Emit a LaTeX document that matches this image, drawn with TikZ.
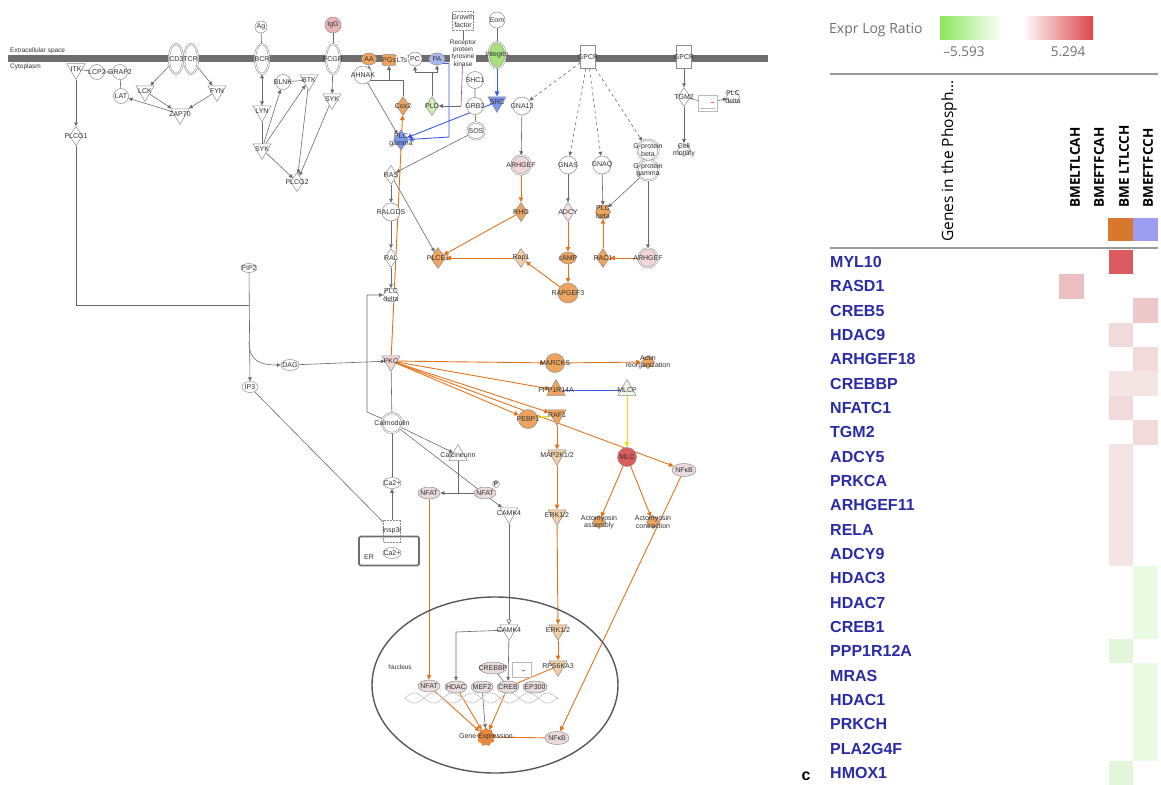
\documentclass[tikz,border=0pt]{standalone}
\usepackage{fontspec}
\setmainfont{Liberation Sans}
\newfontfamily\hmfont{Open Sans}
\usetikzlibrary{shapes.geometric,arrows.meta}
\pgfdeclarelayer{edges}
\pgfsetlayers{edges,main}

\definecolor{membr}{HTML}{6E6E6E}
\definecolor{edgec}{HTML}{6A6A6A}
\definecolor{molc}{HTML}{8C8C8C}
\definecolor{txtc}{HTML}{303030}
\definecolor{upor}{HTML}{EDA45E}
\definecolor{ltor}{HTML}{F2CFA6}
\definecolor{pinkf}{HTML}{F3D6D7}
\definecolor{nfatf}{HTML}{EADCDC}
\definecolor{bluef}{HTML}{7A95EE}
\definecolor{ltblue}{HTML}{A8B9F2}
\definecolor{greenf}{HTML}{A8E07E}
\definecolor{ltgreen}{HTML}{CFEFB4}
\definecolor{mlcpf}{HTML}{EEF6E8}
\definecolor{redf}{HTML}{D95C5E}
\definecolor{iggf}{HTML}{E8B4B4}
\definecolor{corange}{HTML}{E2741E}
\definecolor{cblue}{HTML}{3B5BE8}
\definecolor{cyellow}{HTML}{EEDD00}
\definecolor{genec}{HTML}{2B2BA8}
\definecolor{hdrgray}{HTML}{6F6F6F}
\definecolor{rulec}{HTML}{9A9A9A}
\definecolor{barg}{HTML}{8CE85A}
\definecolor{barr}{HTML}{D9474C}
\definecolor{hmorange}{HTML}{D8782E}
\definecolor{hmlav}{HTML}{9D9DF2}
\definecolor{hmred}{HTML}{DB5A5F}
\definecolor{hmpk}{HTML}{EBBFC2}
\definecolor{hmpkb}{HTML}{EDC8CA}
\definecolor{hmpkc}{HTML}{F2D9DA}
\definecolor{hmpkd}{HTML}{F5E4E4}
\definecolor{hmgr}{HTML}{EBFAE3}
\definecolor{hmgrb}{HTML}{E3F6D9}

\tikzset{
  lbl/.style={font=\fontsize{7}{7.4}\selectfont, text=txtc, align=center, inner sep=0pt},
  mol/.style={draw=molc, line width=0.5pt, fill=white, inner sep=0pt,
    label={[lbl]center:#1}},
  mol/.default={},
  circ/.style={mol=#1, circle, minimum size=15pt}, circ/.default={},
  dcirc/.style={mol=#1, circle, minimum size=17pt, double=white, double distance=0.9pt}, dcirc/.default={},
  dell/.style={mol=#1, ellipse, minimum width=14pt, minimum height=30pt, double=white, double distance=0.9pt}, dell/.default={},
  elli/.style={mol=#1, ellipse, minimum width=22pt, minimum height=12pt}, elli/.default={},
  dia/.style={mol=#1, diamond, minimum width=13pt, minimum height=19pt}, dia/.default={},
  tdn/.style={mol=#1, regular polygon, regular polygon sides=3, shape border rotate=180, minimum size=21pt}, tdn/.default={},
  tup/.style={mol=#1, regular polygon, regular polygon sides=3, minimum size=21pt}, tup/.default={},
  enz/.style={mol=#1, regular polygon, regular polygon sides=6, minimum size=15pt}, enz/.default={},
  func/.style={mol=#1, star, star points=8, star point ratio=1.3, minimum size=13pt}, func/.default={},
  gpcr/.style={mol=#1, rectangle, minimum width=15pt, minimum height=23pt}, gpcr/.default={},
  dbox/.style={mol=#1, rectangle, densely dotted, minimum width=21pt, minimum height=19pt}, dbox/.default={},
  gline/.style={draw=edgec, line width=0.6pt},
  garr/.style={gline, -{Triangle[length=4pt,width=3.6pt]}},
  darr/.style={garr, dashed},
  oline/.style={draw=corange, line width=0.9pt},
  oarr/.style={oline, -{Triangle[length=5pt,width=4.5pt]}},
  bline/.style={draw=cblue, line width=0.9pt},
  barrow/.style={bline, -{Triangle[length=5pt,width=4.5pt]}},
  yline/.style={draw=cyellow, line width=0.9pt},
  yarr/.style={yline, -{Triangle[length=5pt,width=4.5pt]}},
  genename/.style={anchor=west, inner sep=0pt, text=genec, font=\bfseries\fontsize{16}{16}\selectfont},
  colhdr/.style={rotate=90, anchor=west, inner sep=0pt, font=\hmfont\bfseries\fontsize{13.5}{13.5}\selectfont},
}

\begin{document}
\begin{tikzpicture}[x=1pt,y=-1pt]
\useasboundingbox (0,0) rectangle (1161,784);

% compartments
\node[lbl, anchor=west, font=\fontsize{6.5}{7}\selectfont] (exlab) at (10,51) {Extracellular space};
\node[lbl, anchor=west, font=\fontsize{6.5}{7}\selectfont] (cylab) at (10,67) {Cytoplasm};

% T cell receptor
\node[dell] (cd3) at (176,59) {};
\node[dell] (tcr) at (191,59) {};
\node[lbl] (cdtcr) at (183.5,59) {CD3TCR};
\node[tdn=ITK] (itk) at (76,69) {};
\node[circ=LCP2] (lcp2) at (97,72) {};
\node[circ=GRAP2] (grap2) at (120,72) {};
\node[circ=LAT] (lat) at (121,96) {};
\node[tdn=LCK] (lck) at (145,91) {};
\node[tdn=FYN] (fyn) at (217,91) {};
\node[tdn=ZAP70] (zap70) at (180,114) {};
\node[dia=PLCG1] (plcg1) at (76,136) {};
\coordinate (pj) at (249,305);
\coordinate (pc1) at (249,342);
\node[elli=PIP2, minimum width=16pt, minimum height=9pt] (pip2) at (249,268) {};
\node[elli=DAG, minimum width=18pt, minimum height=11pt] (dag) at (290,365) {};
\node[elli=IP3, minimum width=16pt, minimum height=11pt] (ip3) at (250,387) {};

% B cell receptor
\node[circ=Ag, minimum size=12pt] (ag) at (261,27) {};
\node[dell=BCR] (bcr) at (262,59) {};
\node[tdn=LYN] (lyn) at (262,111) {};
\node[tdn=SYK] (syk1) at (262,149) {};
\node[circ=BLNK] (blnk) at (283,82) {};
\node[tdn=BTK] (btk) at (309,80) {};
\node[circ=IgG, fill=iggf, minimum size=16pt] (igg) at (333,25) {};
\node[dell=FCGR] (fcgr) at (333,59) {};
\node[tdn=SYK] (syk2) at (332,99) {};
\node[dia=PLCG2] (plcg2) at (297,182) {};

% lipids and PLC gamma
\node[mol=AA, ellipse, fill=upor, minimum width=15pt, minimum height=12pt] (aa) at (369,59) {};
\node[mol=PGs, rectangle, rounded corners=2pt, fill=upor, minimum width=14pt, minimum height=11pt] (pgs) at (389,60) {};
\node[mol=LTs, rectangle, rounded corners=2pt, minimum width=12pt, minimum height=11pt, draw=none] (lts) at (402,60) {};
\node[circ=PC, minimum size=14pt] (pc) at (415,59) {};
\node[mol=PA, ellipse, fill=ltblue, minimum width=16pt, minimum height=12pt] (pa) at (437,59) {};
\node[dbox={Growth\\factor}] (gf) at (463,21) {};
\node[lbl, fill=white, font=\fontsize{6.5}{7.2}\selectfont] (rtk) at (463,53) {Receptor\\protein\\tyrosine\\kinase};
\node[circ=Eom, minimum size=16pt] (eom) at (497,20) {};
\node[mol=Integrin, ellipse, fill=greenf, minimum width=17pt, minimum height=26pt, double=white, double distance=0.8pt] (itg) at (497,55) {};
\node[circ=AHNAK, minimum size=18pt] (ahnak) at (363,75) {};
\node[dia=Cox2, fill=upor] (cox2) at (403,106) {};
\node[dia=PLD, fill=ltgreen] (pld) at (432,106) {};
\node[circ=SHC1, minimum size=17pt] (shc1) at (475,80) {};
\node[circ=GRB2, minimum size=17pt] (grb2) at (475,106) {};
\node[tdn=SRC, fill=bluef] (src) at (497,102) {};
\node[dcirc=SOS] (sos) at (476,131) {};
\node[dia={PLC\\gamma}, fill=bluef, minimum width=15pt, minimum height=20pt] (plcg) at (401,140) {};
\node[dia=RAS] (ras) at (391,175) {};
\node[circ=RALGDS, minimum size=18pt] (ralgds) at (391,212) {};
\node[dia=RAL] (ral) at (391,258) {};
\node[enz={PLC\\delta}] (plcd) at (391,295) {};
\node[dia=PLCE1, fill=upor, minimum width=15pt, minimum height=21pt] (plce1) at (438,258) {};

% G protein coupled receptors
\node[gpcr=GPCR] (gpcra) at (588,57) {};
\node[gpcr=GPCR] (gpcrb) at (684,57) {};
\node[circ=GNA13, minimum size=18pt] (gna13) at (522,106) {};
\node[dcirc=ARHGEF, fill=pinkf, minimum size=19pt] (arhgefa) at (521,165) {};
\node[circ=GNAS, minimum size=18pt] (gnas) at (568,165) {};
\node[circ=GNAQ, minimum size=18pt] (gnaq) at (602,165) {};
\node[dcirc={G-protein\\beta}, minimum size=21pt] (gpb) at (648,150) {};
\node[dcirc={G-protein\\gamma}, minimum size=21pt] (gpg) at (648,170) {};
\node[dia=RHO, fill=upor] (rho) at (521,212) {};
\node[dia=ADCY, fill=pinkf!60] (adcy) at (568,212) {};
\node[enz={PLC\\beta}, fill=upor] (plcb) at (603,212) {};
\node[dia=Rap1, fill=ltor] (rap1) at (521,258) {};
\node[mol=cAMP, ellipse, fill=upor, minimum width=16pt, minimum height=12pt] (camp) at (568,258) {};
\node[dia=RAC1, fill=upor] (rac1) at (603,258) {};
\node[dcirc=ARHGEF, fill=pinkf, minimum size=19pt] (arhgefb) at (648,258) {};
\node[circ=RAPGEF3, fill=upor, minimum size=20pt] (rapgef3) at (568,293) {};
\node[dia=TGM2] (tgm2) at (684,97) {};
\node[mol, rectangle, draw=molc!60, minimum width=19pt, minimum height=16pt] (tbox) at (708,103) {};
\draw[red!70, line width=0.6pt] (tbox.center) ++(3,-1) -- ++(3,0);
\draw[molc!60, line width=0.4pt] (tbox.south west) ++(2,-3) -- ++(15,0);
\node[enz={PLC\\delta}, minimum size=13pt] (plcd2) at (733,97) {};
\node[func={Cell\\motility}] (motil) at (684,150) {};

% protein kinase C branch
\node[tdn=PKC, fill=pinkf] (pkc) at (391,361) {};
\node[dcirc=Calmodulin, minimum size=20pt] (calm) at (392,423) {};
\node[tup=Calcineurin] (calcn) at (458,455) {};
\node[elli=NFAT, fill=nfatf] (nfata) at (429,493) {};
\node[elli=NFAT, fill=nfatf] (nfatb) at (485,493) {};
\node[mol=P, circle, minimum size=7pt, label={[lbl, font=\fontsize{5}{5}\selectfont]center:P}] (phos) at (496,484) {};
\node[tdn=CAMK4] (camk4a) at (509,513) {};
\node[elli=Ca2+, minimum width=18pt, minimum height=11pt] (ca2a) at (392,483) {};
\node[dbox=Insp3r, minimum width=17pt, minimum height=22pt] (insp3r) at (392,531) {};
\node[draw=membr, line width=1.6pt, rounded corners=1.5pt, minimum width=60pt, minimum height=29pt] (er) at (389,551) {};
\node[lbl] (erlab) at (369,557) {ER};
\node[elli=Ca2+, minimum width=18pt, minimum height=11pt] (ca2b) at (392,553) {};
\node[circ=MARCKS, fill=upor, minimum size=19pt] (marcks) at (555,363) {};
\node[func={Actin\\reorganization}, fill=upor] (actin) at (648,362) {};
\node[tup=PPP1R14A, fill=upor] (ppp) at (556,390) {};
\node[tup=MLCP, fill=mlcpf] (mlcp) at (627,390) {};
\node[circ=PEBP1, fill=upor, minimum size=19pt] (pebp1) at (528,419) {};
\node[tdn=RAF1, fill=upor] (raf1) at (557,415) {};
\node[tdn={MAP2K1/2}, fill=ltor] (mek) at (557,455) {};
\node[circ=MLC, fill=redf, minimum size=19pt] (mlc) at (627,457) {};
\node[elli=NFκB, fill=nfatf, minimum width=24pt, minimum height=13pt] (nfkba) at (684,470) {};
\node[tdn=ERK1/2, fill=ltor] (erka) at (557,515) {};
\node[func={Actomyosin\\assembly}, fill=upor] (asm) at (599,522) {};
\node[func={Actomyosin\\contraction}, fill=upor] (ctr) at (653,522) {};

% nucleus
\node[draw=membr!80!black, line width=1.4pt, ellipse, minimum width=246pt, minimum height=176pt] (nucleus) at (495,685) {};
\node[lbl, font=\fontsize{6.5}{7}\selectfont] (nuclab) at (400,667) {Nucleus};
\draw[gray!45, line width=0.7pt] plot[domain=405:558, samples=120] (\x,{698+5*sin(9.47*(\x-405))});
\draw[gray!45, line width=0.7pt] plot[domain=405:558, samples=120] (\x,{698-5*sin(9.47*(\x-405))});
\node[tdn=CAMK4] (camk4b) at (509,630) {};
\node[tdn=ERK1/2, fill=ltor] (erkb) at (558,630) {};
\node[elli=CREBBP, fill=nfatf, minimum width=27pt] (crebbp) at (493,668) {};
\node[mol, rectangle, draw=molc!60, minimum width=19pt, minimum height=15pt] (nbox) at (522,670) {};
\draw[red!70, line width=0.6pt] (nbox.center) ++(0,0) -- ++(3,0);
\node[tdn=RPS6KA3, fill=ltor] (rsk) at (558,666) {};
\node[elli=NFAT, fill=nfatf] (nfatc) at (429,686) {};
\node[elli=HDAC, fill=nfatf] (hdac) at (456,687) {};
\node[elli=MEF2, fill=nfatf] (mef2) at (482,687) {};
\node[elli=CREB, fill=nfatf] (creb) at (508,687) {};
\node[elli=EP300, fill=nfatf, minimum width=24pt] (ep300) at (535,687) {};
\node[mol, star, star points=9, star point ratio=1.25, fill=corange!85, draw=corange, minimum size=18pt] (gene) at (486,737) {};
\node[lbl] (genelab) at (486,737) {Gene Expression};
\node[elli=NFκB, fill=nfatf, minimum width=24pt, minimum height=13pt] (nfkbb) at (557,738) {};

% connectors
\begin{pgfonlayer}{edges}
  \fill[membr] (8,55.5) rectangle (768,62);
  \draw[garr] (cd3) -- (lck);
  \draw[garr] (tcr) -- (fyn);
  \draw[garr] (lck) -- (zap70);
  \draw[garr] (fyn) -- (zap70);
  \draw[garr] (zap70) -- (lat);
  \draw[gline] (itk) -- (lcp2) -- (grap2) -- (lat);
  \draw[garr] (itk) -- (plcg1);
  \draw[gline] (plcg1) |- (pj);
  \draw[garr] (pip2) -- (ip3);
  \draw[garr] (pc1) .. controls (249,362) and (262,365) .. (dag);
  \draw[gline] (ag) -- (bcr);
  \draw[gline, {Triangle[length=4pt,width=3.6pt]}-{Triangle[length=4pt,width=3.6pt]}] (bcr) -- (lyn);
  \draw[gline] (lyn) -- (syk1);
  \draw[garr] (syk1) -- (blnk);
  \draw[garr] (syk1) -- (btk);
  \draw[garr] (syk1) -- (plcg2);
  \draw[garr] (btk) -- (plcg2);
  \draw[gline] (blnk) -- (btk);
  \draw[gline] (igg) -- (fcgr);
  \draw[garr] (fcgr) -- (syk2);
  \draw[garr] (syk2) -- (plcg2);
  \draw[garr] (ahnak) -- (plcg);
  \coordinate (cb) at (403,80);
  \draw[gline] (cox2) -- (cb);
  \draw[garr] (cb) -| (aa);
  \draw[garr] (cb) -| (pgs);
  \coordinate (pb) at (432,72);
  \draw[gline] (pld) -- (pb);
  \draw[garr] (pb) -| (pc);
  \draw[garr] (pb) -| (pa);
  \coordinate (rb) at (461,106);
  \draw[gline] (gf) -- (rtk);
  \draw[gline] (rtk) -- (rb);
  \draw[garr] (rb) -- (pld);
  \draw[gline] (eom) -- (itg);
  \draw[barrow] (itg) -- (src);
  \draw[barrow] (src) -- (plcg);
  \coordinate (pk) at (449,137);
  \draw[barrow] (pa.south east) -| (pk) -- (plcg);
  \draw[gline] (shc1) -- (grb2) -- (sos);
  \draw[garr] (sos) -- (ras);
  \draw[oarr] (pkc) -- (cox2);
  \draw[garr] (ras) -- (ralgds);
  \draw[garr] (ralgds) -- (ral);
  \draw[garr] (ral) -- (plcd);
  \draw[garr] (ras) -- (plce1);
  \coordinate (cm1) at (367,412);
  \coordinate (cm2) at (367,295);
  \draw[garr] (calm) -- (cm1) -- (cm2) -- (plcd);
  \draw[darr] (gpcra) -- (gna13);
  \draw[darr] (gpcra) -- (gnas);
  \draw[darr] (gpcra) -- (gnaq);
  \draw[darr] (gpcra) -- (gpb);
  \draw[garr] (gna13) -- (arhgefa);
  \draw[oarr] (arhgefa) -- (rho);
  \draw[oarr] (rho) -- (plce1);
  \draw[oarr] (rap1) -- (plce1);
  \draw[oarr] (rapgef3) -- (rap1);
  \draw[garr] (gnas) -- (adcy);
  \draw[oarr] (adcy) -- (camp);
  \draw[oarr] (camp) -- (rapgef3);
  \draw[garr] (gnaq) -- (plcb);
  \draw[garr] (gpg) -- (plcb);
  \draw[garr] (gpg) -- (arhgefb);
  \draw[oarr] (arhgefb) -- (rac1);
  \draw[oarr] (rac1) -- (plcb);
  \draw[garr] (gpcrb) -- (tgm2);
  \draw[garr] (tgm2) -- (motil);
  \draw[gline] (tgm2) -- (tbox);
  \draw[garr] (tbox) -- (plcd2);
  \draw[garr] (dag) -- (pkc);
  \draw[gline] (pkc) -- (calm);
  \draw[gline] (ca2a) -- (calm);
  \draw[garr] (insp3r) -- (ca2a);
  \draw[gline] (ip3) -- (insp3r);
  \draw[garr] (calm) -- (calcn);
  \draw[garr] (calm) -- (camk4a);
  \coordinate (cj) at (458,493);
  \draw[gline] (calcn) -- (cj);
  \draw[garr] (nfatb) -- (nfata);
  \draw[oarr] (nfata) -- (nfatc);
  \draw[oarr] (pkc) -- (marcks);
  \draw[oarr] (pkc) -- (ppp);
  \draw[oarr] (pkc) -- (pebp1);
  \draw[oarr] (pkc) -- (raf1);
  \draw[oarr] (pkc) -- (nfkba);
  \draw[oarr] (marcks) -- (actin);
  \draw[bline] (ppp) -- (mlcp);
  \draw[yarr] (mlcp) -- (mlc);
  \draw[yline] (pebp1) -- (raf1);
  \draw[oarr] (raf1) -- (mek);
  \draw[oarr] (mek) -- (erka);
  \draw[oarr] (mlc) -- (asm);
  \draw[oarr] (mlc) -- (ctr);
  \draw[oarr] (nfkba) -- (nfkbb);
  \draw[gline, -{Triangle[open,length=5pt,width=5pt]}] (camk4a) -- (camk4b);
  \draw[oarr] (erka) -- (erkb);
  \draw[oarr] (erkb) -- (rsk);
  \draw[oline] (rsk) -- (creb);
  \draw[gline] (crebbp) -- (creb);
  \coordinate (hj) at (456,632);
  \draw[garr] (camk4b) -- (hj) -- (hdac);
  \draw[garr] (camk4b) -- (creb);
  \draw[oarr] (nfatc) -- (gene);
  \draw[oarr] (hdac) -- (gene);
  \draw[oarr] (creb) -- (gene);
  \draw[garr] (mef2) -- (gene);
  \draw[oline] (gene) -- (nfkbb);
\end{pgfonlayer}

% heat map legend
\node[anchor=west, inner sep=0pt, text=hdrgray, font=\hmfont\fontsize{14}{14}\selectfont] (elr) at (829,30) {Expr Log Ratio};
\shade[left color=barg, right color=white] (940,17) rectangle (1003,40);
\shade[left color=white, right color=barr] (1022,17) rectangle (1093,40);
\node[text=hdrgray, font=\hmfont\fontsize{13.5}{13.5}\selectfont] (lo) at (964,52) {–5.593};
\node[text=hdrgray, font=\hmfont\fontsize{13.5}{13.5}\selectfont] (hi) at (1068,52) {5.294};
\draw[rulec, line width=1.3pt] (830,74) -- (1158,74);
\node[rotate=90, anchor=west, inner sep=0pt, font=\hmfont\fontsize{15.5}{16}\selectfont] (genhdr) at (949,242) {Genes in the Phosph...};
\node[colhdr] (c1) at (1075,208) {BMELTLCAH};
\node[colhdr] (c2) at (1099,208) {BMEFTFCAH};
\node[colhdr] (c3) at (1124,208) {BME LTLCCH};
\node[colhdr] (c4) at (1148,208) {BMEFTFCCH};
\fill[hmorange] (1108,218) rectangle (1133,241);
\fill[hmlav] (1133,218) rectangle (1158,241);
\draw[rulec, line width=1.3pt] (830,248) -- (1158,248);

% heat map cells
\foreach \r/\c/\cc in {0/3/hmred, 1/1/hmpk, 2/4/hmpkb, 3/3/hmpkc, 4/4/hmpkc, 5/3/hmpkd, 5/4/hmpkd,
    6/3/hmpkc, 7/4/hmpkc, 8/3/hmpkd, 9/3/hmpkd, 10/3/hmpkd, 11/3/hmpkd, 12/3/hmpkd,
    13/4/hmgr, 14/4/hmgr, 15/4/hmgr, 16/3/hmgrb, 17/4/hmgr, 18/4/hmgr, 19/4/hmgr, 20/4/hmgr, 21/3/hmgrb}
  \fill[\cc] ({1059+24.75*(\c-1)},{249.8+24.33*\r}) rectangle ++(24.75,24.4);

% gene names
\foreach \g [count=\i from 0] in {MYL10,RASD1,CREB5,HDAC9,ARHGEF18,CREBBP,NFATC1,TGM2,ADCY5,PRKCA,ARHGEF11,
    RELA,ADCY9,HDAC3,HDAC7,CREB1,PPP1R12A,MRAS,HDAC1,PRKCH,PLA2G4F,HMOX1}
  \node[genename] (gn\i) at (830,{262+24.33*\i}) {\g};

\node[anchor=south, inner sep=0pt, font=\bfseries\fontsize{16}{16}\selectfont] (panelc) at (806,780.5) {c};
\end{tikzpicture}
\end{document}
